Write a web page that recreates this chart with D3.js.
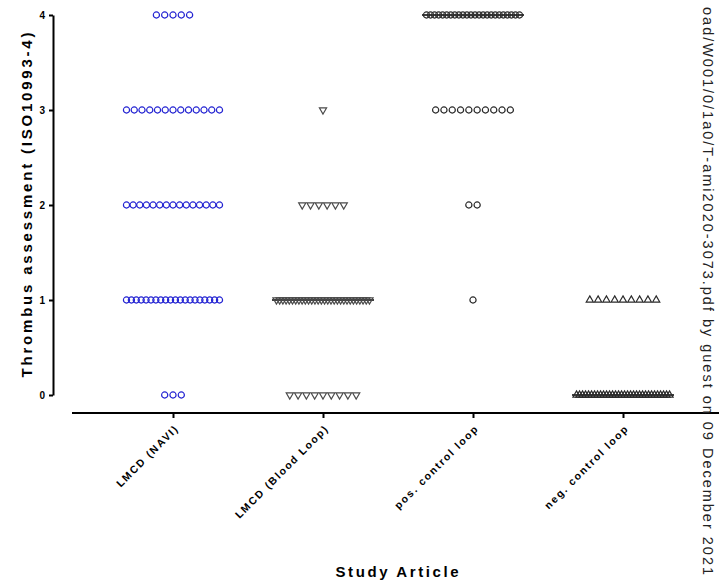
<!DOCTYPE html>
<html>
<head>
<meta charset="utf-8">
<script src="https://cdn.jsdelivr.net/npm/d3@7"></script>
<style>
body { margin: 0; background: #fff; }
text { font-family: "Liberation Sans", Arial, sans-serif; }
</style>
</head>
<body>
<div id="chart-area"></div>
<script>
// data
var categories = ["LMCD (NAVI)", "LMCD (Blood Loop)", "pos. control loop", "neg. control loop"];
var scoreLevels = [0, 1, 2, 3, 4];
// samples per score level (0..4)
var naviCounts = [3, 20, 15, 13, 5];
var bloodLoopCounts = [9, 30, 6, 1, 0];
var posControlCounts = [0, 1, 2, 10, 24];
var negControlCounts = [32, 9, 0, 0, 0];
var yTicks = [0, 1, 2, 3, 4];
var watermark = "oad/W001/0/1a0/T-ami2020-3073.pdf by guest on 09 December 2021";

var width = 719, height = 580;

var svg = d3.select("#chart-area")
    .append("svg")
        .attr("width", width)
        .attr("height", height);

var x = d3.scalePoint()
    .domain(categories)
    .range([173, 623]);

var y = d3.scaleLinear()
    .domain([0, 4])
    .range([395, 15]);

var groups = [
    { name: categories[0], counts: naviCounts, shape: "circle", color: "#2323d2", median: false },
    { name: categories[1], counts: bloodLoopCounts, shape: "down", color: "#4a4a4a", median: true },
    { name: categories[2], counts: posControlCounts, shape: "circle", color: "#2a2a2a", median: true },
    { name: categories[3], counts: negControlCounts, shape: "up", color: "#2a2a2a", median: true }
];

// y axis
var yAxisCall = d3.axisLeft(y)
    .tickValues(yTicks)
    .tickSize(4)
    .tickSizeOuter(0)
    .tickPadding(4)
    .tickFormat(d3.format("d"));
var yAxis = svg.append("g")
    .attr("class", "y-axis")
    .attr("transform", "translate(53, 0)")
    .call(yAxisCall);
yAxis.select(".domain").attr("stroke-width", 2);
yAxis.selectAll(".tick line").attr("stroke-width", 2);
yAxis.selectAll("text")
    .attr("font-size", 10)
    .attr("font-weight", "bold")
    .attr("fill", "#000");

// x axis
var xAxisCall = d3.axisBottom(x).tickSize(5).tickSizeOuter(0);
var xAxis = svg.append("g")
    .attr("class", "x-axis")
    .attr("transform", "translate(0, 413)")
    .call(xAxisCall);
xAxis.select(".domain").remove();
xAxis.append("line")
    .attr("x1", 72).attr("x2", 719)
    .attr("stroke", "#000")
    .attr("stroke-width", 2);
xAxis.selectAll(".tick line").attr("stroke-width", 2);
xAxis.selectAll("text")
    .attr("font-size", 10.5)
    .attr("font-weight", "bold")
    .attr("letter-spacing", 1.7)
    .attr("fill", "#000")
    .attr("text-anchor", "end")
    .attr("y", 0)
    .attr("dy", 0)
    .attr("transform", "translate(6, 16) rotate(-45)");

// axis titles
svg.append("text")
    .attr("transform", "translate(32, 205) rotate(-90)")
    .attr("text-anchor", "middle")
    .attr("font-size", 15)
    .attr("font-weight", "bold")
    .attr("textLength", 345)
    .attr("lengthAdjust", "spacing")
    .text("Thrombus assessment (ISO10993-4)");

svg.append("text")
    .attr("x", 397)
    .attr("y", 577)
    .attr("text-anchor", "middle")
    .attr("font-size", 15)
    .attr("font-weight", "bold")
    .attr("textLength", 123)
    .attr("lengthAdjust", "spacing")
    .text("Study Article");

// points, spread side by side within each column
var maxSpan = 93, pitch = 8.3;
var points = [];
groups.forEach(function(g) {
    g.counts.forEach(function(n, li) {
        var p = n > 1 ? Math.min(pitch, maxSpan / (n - 1)) : 0;
        for (var i = 0; i < n; i++) {
            points.push({ group: g, value: scoreLevels[li], offset: (i - (n - 1) / 2) * p });
        }
    });
});

// median lines
groups.filter(function(g) { return g.median; }).forEach(function(g) {
    var vals = [];
    g.counts.forEach(function(n, li) { for (var i = 0; i < n; i++) vals.push(scoreLevels[li]); });
    var m = d3.median(vals);
    svg.append("line")
        .attr("x1", x(g.name) - 51)
        .attr("x2", x(g.name) + 51)
        .attr("y1", y(m))
        .attr("y2", y(m))
        .attr("stroke", "#000")
        .attr("stroke-width", 1.5);
});

var tri = d3.symbol().type(d3.symbolTriangle).size(22);

svg.selectAll(".pt")
    .data(points)
    .enter()
    .append("path")
        .attr("class", "pt")
        .attr("d", function(d) {
            return d.group.shape === "circle" ? d3.symbol().type(d3.symbolCircle).size(30)() : tri();
        })
        .attr("transform", function(d) {
            var t = "translate(" + (x(d.group.name) + d.offset) + "," + y(d.value) + ")";
            return d.group.shape === "down" ? t + " rotate(180)" : t;
        })
        .attr("fill", "none")
        .attr("stroke", function(d) { return d.group.color; })
        .attr("stroke-width", 1.2);

// side watermark
svg.append("text")
    .attr("transform", "translate(703, 575) rotate(90)")
    .attr("text-anchor", "end")
    .attr("font-size", 14.5)
    .attr("fill", "#222")
    .attr("textLength", 568)
    .attr("lengthAdjust", "spacing")
    .text(watermark);
</script>
</body>
</html>
